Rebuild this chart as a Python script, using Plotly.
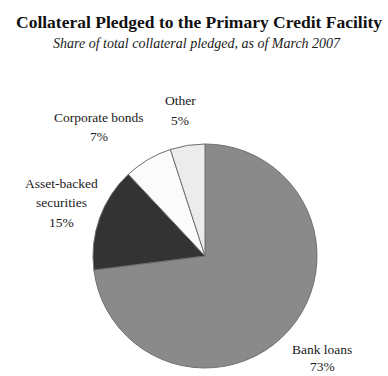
import plotly.graph_objects as go

categories = ["Bank loans", "Asset-backed securities", "Corporate bonds", "Other"]
shares = [73, 15, 7, 5]
colors = ["#8a8a8a", "#333333", "#fbfbfb", "#ececec"]

W, H = 388, 376
CX, CY, R = 205, 256, 112
fig = go.Figure(go.Pie(
    labels=categories, values=shares, sort=False, direction="clockwise",
    rotation=0, textinfo="none", hoverinfo="label+percent",
    marker=dict(colors=colors, line=dict(color="#707070", width=1)),
    domain=dict(x=[(CX-R)/W, (CX+R)/W], y=[(H-CY-R)/H, (H-CY+R)/H]),
    showlegend=False,
))

font = dict(family="Liberation Serif", size=13.5, color="#1a1a1a")
label_lines = [
    (["Bank loans", f"{shares[0]}%"], 322, 349, 17.5),
    (["Asset-backed", "securities", f"{shares[1]}%"], 62, 183, 19.5),
    (["Corporate bonds", f"{shares[2]}%"], 99, 117, 20),
    (["Other", f"{shares[3]}%"], 180, 100, 20),
]
ann = []
for lines, x, y, step in label_lines:
    for i, t in enumerate(lines):
        ann.append(dict(text=t, x=x/W, y=1-(y+i*step)/H, xref="paper", yref="paper",
                        showarrow=False, font=font, xanchor="center", yanchor="middle"))
ann.append(dict(text="<b>Collateral Pledged to the Primary Credit Facility</b>", x=199/W, y=1-22/H,
                xref="paper", yref="paper", showarrow=False, xanchor="center", yanchor="middle",
                font=dict(family="Liberation Serif", size=17.5, color="#111111")))
ann.append(dict(text="<i>Share of total collateral pledged, as of March 2007</i>", x=197/W, y=1-43/H,
                xref="paper", yref="paper", showarrow=False, xanchor="center", yanchor="middle",
                font=dict(family="Liberation Serif", size=14, color="#1a1a1a")))

fig.update_layout(width=W, height=H, margin=dict(l=0, r=0, t=0, b=0),
                  paper_bgcolor="white", plot_bgcolor="white", annotations=ann)
fig.write_html("out.html")
